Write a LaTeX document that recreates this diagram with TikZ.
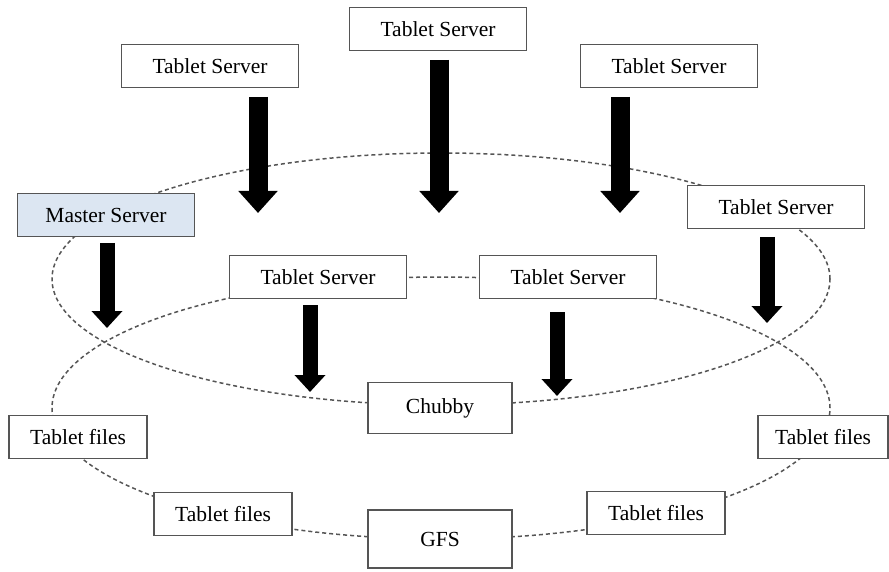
\documentclass[tikz,border=0pt]{standalone}
\usepackage{fontspec}
\setmainfont{Liberation Serif}
\usetikzlibrary{arrows.meta}
\definecolor{boxline}{RGB}{85,85,85}
\definecolor{dashline}{RGB}{85,85,85}
\definecolor{masterfill}{RGB}{220,230,242}
\begin{document}
\begin{tikzpicture}[x=1pt,y=-1pt,
  box/.style={draw=boxline,line width=1.7pt,fill=white,inner sep=0pt,
    font=\fontsize{21.5}{25}\selectfont,text=black},
  tsbox/.style={box,minimum width=177pt,minimum height=43pt},
  tfbox/.style={box,minimum width=138pt,minimum height=43pt},
  ell/.style={draw=dashline,line width=1.5pt,dash pattern=on 4pt off 3pt},
  bigarrow/.style={line width=19pt,-{Triangle[width=38pt,length=22pt]}},
  smallarrow/.style={line width=15pt,-{Triangle[width=30pt,length=17pt]}}
]
\useasboundingbox (0,0) rectangle (889,572);
% ellipses
\draw[ell] (441,279) ellipse [x radius=389pt, y radius=126pt];
\draw[ell] (441,408) ellipse [x radius=389pt, y radius=131pt];
% boxes
\node[tsbox] (tsA) at (210,66) {Tablet Server};
\node[tsbox] (tsB) at (438,29) {Tablet Server};
\node[tsbox] (tsC) at (669,66) {Tablet Server};
\node[tsbox,fill=masterfill] (master) at (106,215) {Master Server};
\node[tsbox] (tsD) at (776,207) {Tablet Server};
\node[tsbox] (tsE) at (318,277) {Tablet Server};
\node[tsbox] (tsF) at (568,277) {Tablet Server};
\node[box,minimum width=144pt,minimum height=51pt] (chubby) at (440,408) {Chubby};
\node[tfbox] (tfA) at (78,437) {Tablet files};
\node[tfbox,minimum width=130pt] (tfB) at (823,437) {Tablet files};
\node[tfbox] (tfC) at (223,514) {Tablet files};
\node[tfbox] (tfD) at (656,513) {Tablet files};
\node[box,minimum width=144pt,minimum height=58pt] (gfs) at (440,539) {GFS};
% arrow end points
\coordinate (a1s) at (258,97);  \coordinate (a1e) at (258,213);
\coordinate (a2s) at (439,60);  \coordinate (a2e) at (439,213);
\coordinate (a3s) at (620,97);  \coordinate (a3e) at (620,213);
\coordinate (a4s) at (107,243); \coordinate (a4e) at (107,328);
\coordinate (a5s) at (767,237); \coordinate (a5e) at (767,323);
\coordinate (a6s) at (310,305); \coordinate (a6e) at (310,392);
\coordinate (a7s) at (557,312); \coordinate (a7e) at (557,396);
% arrows
\draw[bigarrow] (a1s) -- (a1e);
\draw[bigarrow] (a2s) -- (a2e);
\draw[bigarrow] (a3s) -- (a3e);
\draw[smallarrow] (a4s) -- (a4e);
\draw[smallarrow] (a5s) -- (a5e);
\draw[smallarrow] (a6s) -- (a6e);
\draw[smallarrow] (a7s) -- (a7e);
\end{tikzpicture}
\end{document}
